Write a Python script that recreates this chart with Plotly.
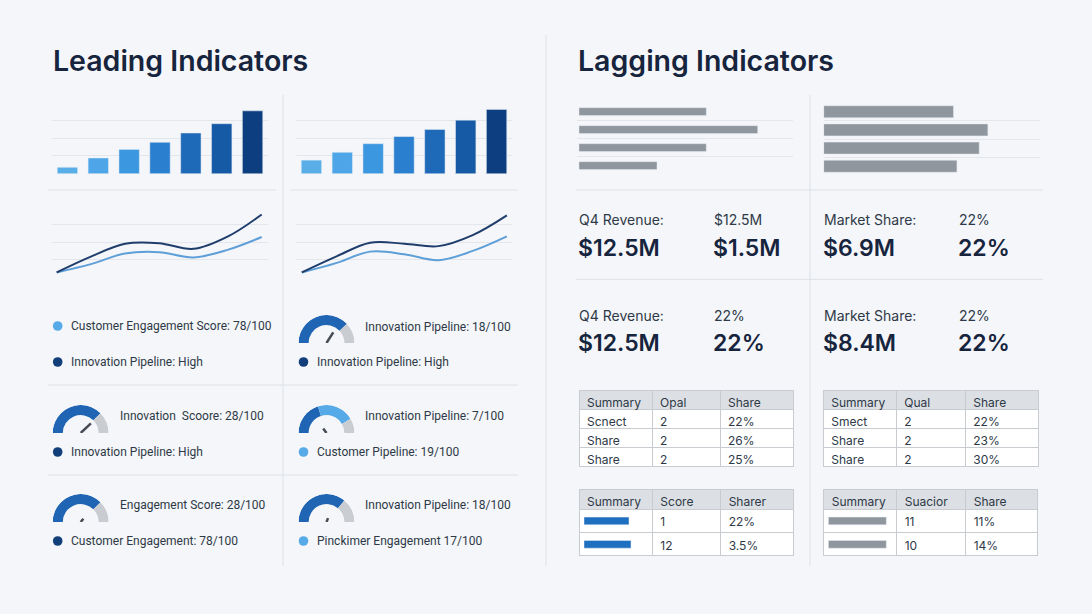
import plotly.graph_objects as go

W, H = 1092, 614


def X(px):
    return px / W


def Y(py):
    return 1 - py / H


def xd(a, b):
    return [a / W, b / W]


def yd(top, bottom):
    return [1 - bottom / H, 1 - top / H]


FONT = "Inter"
FONT2 = "Roboto"
BG = "#f4f6f9"
NAVY = "#17243d"
TXT = "#2e3947"
GRID = "#e3e6ea"
DIV = "#dde1e6"
BLUE = "#1f65b3"
LIGHT = "#56aae8"
DARKDOT = "#123f7a"
GRAYBAR = "#8f969d"
GAUGE_GRAY = "#c9ccd1"

# ------------------------------------------------------------------ data
periods = ["P1", "P2", "P3", "P4", "P5", "P6", "P7"]
lead_bars_left = [9, 22, 34, 44, 57, 70, 88]
lead_bars_right = [19, 30, 42, 52, 62, 75, 90]
bar_shades = ["#5aaee8", "#4ea6e8", "#3b97e0", "#2a7fcf", "#1f6ab8", "#165aa5", "#0d3e80"]

line_x = [0, 1, 2, 3, 4, 5, 6]
left_line_dark = [0.23, 1.15, 1.9, 1.93, 1.6, 2.31, 3.6]
left_line_light = [0.23, 0.71, 1.33, 1.41, 1.1, 1.54, 2.29]
right_line_dark = [0.23, 1.15, 1.96, 1.9, 1.76, 2.4, 3.55]
right_line_light = [0.23, 0.77, 1.44, 1.29, 0.94, 1.48, 2.33]

lag_rows = ["A", "B", "C", "D"]
lag_bars_left = [59.4, 83.4, 59.4, 36.4]
lag_bars_right = [60.0, 75.9, 71.9, 61.6]

# gauges: primary value, secondary value (or None), needle value, needle length
gauge_primary = [76, 75, 40, 75, 72]
gauge_secondary = [None, None, 83, None, None]
gauge_needle = [68, 76, 30, 72, 62]
gauge_needle_len = [0.45, 0.5, 0.2, 0.15, 0.15]
gauge_centers = [(326.5, 343), (80.7, 433), (326.5, 433), (80.7, 522), (326.5, 522)]
GAUGE_R = 28

# left panel legend items: (dot x, y, color, text x, text)
legend_items = [
    (57.7, 326, LIGHT, 69, "Customer Engagement Score: 78/100"),
    (57.7, 362, DARKDOT, 69, "Innovation Pipeline: High"),
    (303.5, 362, DARKDOT, 315, "Innovation Pipeline: High"),
    (57.7, 452, DARKDOT, 69, "Innovation Pipeline: High"),
    (303.5, 452, LIGHT, 315, "Customer Pipeline: 19/100"),
    (57.7, 541, DARKDOT, 69, "Customer Engagement: 78/100"),
    (303.5, 541, LIGHT, 315, "Pinckimer Engagement 17/100"),
]
gauge_labels = [
    (363, 327, "Innovation Pipeline: 18/100"),
    (118, 416, "Innovation\u00a0 Scoore: 28/100"),
    (363, 416, "Innovation Pipeline: 7/100"),
    (118, 505, "Engagement Score: 28/100"),
    (363, 505, "Innovation Pipeline: 18/100"),
]

# KPI blocks: (x, small label, big value)
kpi_row1 = [(578.3, "Q4 Revenue:", "$12.5M"), (712.7, "$12.5M", "$1.5M"),
            (823.3, "Market Share:", "$6.9M"), (957.7, "22%", "22%")]
kpi_row2 = [(578.3, "Q4 Revenue:", "$12.5M"), (712.7, "22%", "22%"),
            (823.3, "Market Share:", "$8.4M"), (957.7, "22%", "22%")]

t1_header = ["Summary", "Opal", "Share"]
t1_cells = [["Scnect", "Share", "Share"], ["2", "2", "2"], ["22%", "26%", "25%"]]
t2_header = ["Summary", "Qual", "Share"]
t2_cells = [["Smect", "Share", "Share"], ["2", "2", "2"], ["22%", "23%", "30%"]]
t3_header = ["Summary", "Score", "Sharer"]
t3_cells = [["", ""], ["1", "12"], ["22%", "3.5%"]]
t4_header = ["Summary", "Suacior", "Share"]
t4_cells = [["", ""], ["11", "10"], ["11%", "14%"]]
t3_bars = [45, 47]
t4_bars = [58, 58]

# ------------------------------------------------------------------ figure
fig = go.Figure()


def add_table(x0, x1, y0, y1, header, cells, hh, ch, colw, first_transparent=False):
    nrows = len(cells[0])
    if first_transparent:
        fill = [["rgba(0,0,0,0)"] * nrows, ["white"] * nrows, ["white"] * nrows]
    else:
        fill = "white"
    fig.add_trace(go.Table(
        domain=dict(x=xd(x0, x1), y=yd(y0, y1)),
        columnwidth=colw,
        header=dict(values=header, fill_color="#dcdfe3", line_color="#c8ccd1", line_width=1,
                    align="left", height=hh, font=dict(family=FONT, size=12, color=TXT)),
        cells=dict(values=cells, fill=dict(color=fill), line_color="#c8ccd1", line_width=1,
                   align="left", height=ch, font=dict(family=FONT, size=12, color=TXT)),
    ))


add_table(579, 794, 390, 480, t1_header, t1_cells, 19, 19, [73, 68, 73])
add_table(823.3, 1039.3, 390, 480, t2_header, t2_cells, 19, 19, [73, 69, 73])
add_table(579, 794.3, 489.3, 580, t3_header, t3_cells, 20, 23.3, [73, 68, 73], True)
add_table(823.7, 1038.3, 489.3, 580, t4_header, t4_cells, 20, 23.3, [73, 69, 72], True)

# leading bar charts
fig.add_trace(go.Bar(x=periods, y=lead_bars_left, marker_color=bar_shades, width=0.66,
                     xaxis="x", yaxis="y", showlegend=False, hoverinfo="skip"))
fig.add_trace(go.Bar(x=periods, y=lead_bars_right, marker_color=bar_shades, width=0.66,
                     xaxis="x2", yaxis="y2", showlegend=False, hoverinfo="skip"))

# leading line charts
for xa, ya, dark, light in [("x3", "y3", left_line_dark, left_line_light),
                            ("x4", "y4", right_line_dark, right_line_light)]:
    fig.add_trace(go.Scatter(x=line_x, y=light, mode="lines", line=dict(color="#5e9fd8", width=2, shape="spline"),
                             xaxis=xa, yaxis=ya, showlegend=False, hoverinfo="skip"))
    fig.add_trace(go.Scatter(x=line_x, y=dark, mode="lines", line=dict(color="#1f3d6c", width=2, shape="spline"),
                             xaxis=xa, yaxis=ya, showlegend=False, hoverinfo="skip"))

# lagging bars
fig.add_trace(go.Bar(y=list(range(4)), x=lag_bars_left, orientation="h", marker_color=GRAYBAR, width=0.44,
                     xaxis="x5", yaxis="y5", showlegend=False, hoverinfo="skip"))
fig.add_trace(go.Bar(y=list(range(4)), x=lag_bars_right, orientation="h", marker_color=GRAYBAR, width=0.66,
                     xaxis="x6", yaxis="y6", showlegend=False, hoverinfo="skip"))

# table bars
fig.add_trace(go.Bar(y=[0, 1], x=t3_bars, orientation="h", marker_color="#1f6fc0", width=0.33,
                     xaxis="x7", yaxis="y7", showlegend=False, hoverinfo="skip"))
fig.add_trace(go.Bar(y=[0, 1], x=t4_bars, orientation="h", marker_color=GRAYBAR, width=0.33,
                     xaxis="x8", yaxis="y8", showlegend=False, hoverinfo="skip"))

# gauges
polar_layouts = {}
for i, (cx, cy) in enumerate(gauge_centers):
    name = "polar" if i == 0 else f"polar{i + 1}"
    p = gauge_primary[i]
    s = gauge_secondary[i]
    thetas, widths, colors = [], [], []
    thetas.append(180 - 0.9 * p)
    widths.append(1.8 * p)
    colors.append(BLUE)
    end = p
    if s is not None:
        thetas.append(180 - 1.8 * p - 0.9 * (s - p))
        widths.append(1.8 * (s - p))
        colors.append(LIGHT)
        end = s
    thetas.append(0.9 * (100 - end))
    widths.append(1.8 * (100 - end))
    colors.append(GAUGE_GRAY)
    n = len(thetas)
    fig.add_trace(go.Barpolar(r=[0.36] * n, base=[0.64] * n, theta=thetas, width=widths,
                              marker=dict(color=colors, line=dict(width=0)),
                              subplot=name, showlegend=False, hoverinfo="skip"))
    nt = 180 - 1.8 * gauge_needle[i]
    fig.add_trace(go.Scatterpolar(r=[0, gauge_needle_len[i]], theta=[nt, nt], mode="lines",
                                  line=dict(color="#474c55", width=2.5),
                                  subplot=name, showlegend=False, hoverinfo="skip"))
    polar_layouts[name] = dict(
        domain=dict(x=xd(cx - GAUGE_R, cx + GAUGE_R), y=yd(cy - GAUGE_R, cy)),
        sector=[0, 180], bgcolor="rgba(0,0,0,0)",
        radialaxis=dict(range=[0, 1], visible=False),
        angularaxis=dict(visible=False),
    )


# ------------------------------------------------------------------ axes
def hidden_x(domain, rng):
    return dict(domain=domain, range=rng, visible=False, fixedrange=True)


def grid_y(domain, rng, tickvals, anchor):
    return dict(domain=domain, range=rng, tickvals=tickvals, showticklabels=False, ticks="",
                showgrid=True, gridcolor=GRID, gridwidth=1, zeroline=False, showline=False,
                anchor=anchor, fixedrange=True)


layout_axes = dict(
    xaxis=hidden_x(xd(52, 268), [-0.5, 6.5]) | dict(type="category", anchor="y"),
    yaxis=grid_y(yd(102, 174), [-0.4, 100.4], [0, 25, 50, 75, 100], "x"),
    xaxis2=hidden_x(xd(296, 512), [-0.5, 6.5]) | dict(type="category", anchor="y2"),
    yaxis2=grid_y(yd(102, 174), [-0.4, 100.4], [0, 25, 50, 75, 100], "x2"),
    xaxis3=hidden_x(xd(52, 268), [-0.137, 6.184]) | dict(anchor="y3"),
    yaxis3=grid_y(yd(207.3, 276.7), [-0.02, 4.02], [0, 1, 2, 3, 4], "x3"),
    xaxis4=hidden_x(xd(296, 512), [-0.17, 6.15]) | dict(anchor="y4"),
    yaxis4=grid_y(yd(207.3, 276.7), [-0.02, 4.02], [0, 1, 2, 3, 4], "x4"),
    xaxis5=hidden_x(xd(576.7, 793.3), [-1.07, 100]) | dict(anchor="y5"),
    yaxis5=grid_y(yd(102.3, 175), [3.52, -0.52], [-0.5, 0.5, 1.5, 2.5, 3.5], "x5"),
    xaxis6=hidden_x(xd(823.7, 1040), [0, 100]) | dict(anchor="y6"),
    yaxis6=grid_y(yd(102.3, 175.7), [3.52, -0.52], [-0.5, 0.5, 1.5, 2.5, 3.5], "x6"),
    xaxis7=hidden_x(xd(584, 652), [0, 68]) | dict(anchor="y7"),
    yaxis7=dict(domain=yd(509.3, 556), range=[1.5, -0.5], visible=False, anchor="x7"),
    xaxis8=hidden_x(xd(828.3, 896.7), [0, 68.4]) | dict(anchor="y8"),
    yaxis8=dict(domain=yd(509.3, 556), range=[1.5, -0.5], visible=False, anchor="x8"),
)

# ------------------------------------------------------------------ shapes
shapes = []


def hline(x0, x1, y, color=DIV, w=1):
    shapes.append(dict(type="line", xref="paper", yref="paper", x0=X(x0), x1=X(x1), y0=Y(y), y1=Y(y),
                       line=dict(color=color, width=w)))


def vline(x, y0, y1, color=DIV, w=1):
    shapes.append(dict(type="line", xref="paper", yref="paper", x0=X(x), x1=X(x), y0=Y(y0), y1=Y(y1),
                       line=dict(color=color, width=w)))


vline(546, 35, 566)
vline(283, 95, 566)
vline(810, 95, 566)
hline(48, 276, 190)
hline(290, 518, 190)
hline(48, 518, 385)
hline(48, 518, 475)
hline(576, 1043, 190)
hline(576, 1043, 279.3)

for (x0, x1) in [(579, 652.3), (823.7, 896.7)]:
    shapes.append(dict(type="rect", xref="paper", yref="paper", layer="below",
                       x0=X(x0), x1=X(x1), y0=Y(556), y1=Y(509.3),
                       fillcolor="white", line=dict(width=0)))

for (dx, dy, col, tx, t) in legend_items:
    r = 4.8
    shapes.append(dict(type="circle", xref="paper", yref="paper", x0=X(dx - r), x1=X(dx + r),
                       y0=Y(dy + r), y1=Y(dy - r), fillcolor=col, line=dict(width=0)))

# ------------------------------------------------------------------ annotations
annotations = []


def txt(x, y, s, size, color=TXT, weight=400, family=FONT):
    annotations.append(dict(x=X(x), y=Y(y), xref="paper", yref="paper", text=s, showarrow=False,
                            xanchor="left", yanchor="middle",
                            font=dict(family=family, size=size, color=color, weight=weight)))


txt(51, 60, "Leading Indicators", 28.5, NAVY, 600)
txt(576, 60, "Lagging Indicators", 28.5, NAVY, 600)

for (dx, dy, col, tx, t) in legend_items:
    txt(tx, dy, t, 12, family=FONT2)
for (tx, ty, t) in gauge_labels:
    txt(tx, ty, t, 12, family=FONT2)

for (kx, small, big) in kpi_row1:
    txt(kx - 1, 220, small, 14)
    txt(kx - 2, 248, big, 23, NAVY, 600)
for (kx, small, big) in kpi_row2:
    txt(kx - 1, 315, small, 14)
    txt(kx - 2, 343, big, 23, NAVY, 600)

fig.update_layout(
    width=W, height=H, margin=dict(l=0, r=0, t=0, b=0),
    paper_bgcolor=BG, plot_bgcolor="rgba(0,0,0,0)",
    showlegend=False, shapes=shapes, annotations=annotations,
    **layout_axes, **polar_layouts,
)

fig.write_html("out.html")
